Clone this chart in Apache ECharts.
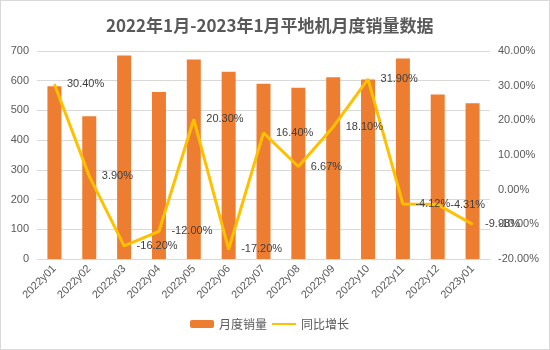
<!DOCTYPE html>
<html>
<head>
<meta charset="utf-8">
<script src="https://cdn.jsdelivr.net/npm/echarts@6/dist/echarts.min.js"></script>
<style>
  html, body { margin: 0; padding: 0; background: #fff; }
  #chart { width: 548px; height: 348px; border: 1px solid #d9d9d9; }
</style>
</head>
<body>
<div id="chart"></div>
<script>
const months = ['2022y01', '2022y02', '2022y03', '2022y04', '2022y05', '2022y06', '2022y07',
  '2022y08', '2022y09', '2022y10', '2022y11', '2022y12', '2023y01'];
const sales = [581, 480, 685, 562, 671, 630, 590, 576, 612, 604, 675, 554, 524];
const growth = [30.4, 3.9, -16.2, -12.0, 20.3, -17.2, 16.4, 6.67, 18.1, 31.9, -4.12, -4.31, -9.98];

const textColor = '#595959';
const chart = echarts.init(document.getElementById('chart'));

chart.setOption({
  animation: false,
  backgroundColor: '#fff',
  title: {
    text: '2022年1月-2023年1月平地机月度销量数据',
    left: 100,
    top: 11,
    textStyle: {
      color: textColor,
      fontSize: 17,
      fontWeight: 'bold',
      fontFamily: 'Noto Sans CJK SC'
    }
  },
  legend: {
    data: ['月度销量', { name: '同比增长', itemStyle: { opacity: 0 } }],
    bottom: 14,
    left: 184,
    itemWidth: 24,
    itemHeight: 8,
    itemGap: 4,
    textStyle: { color: textColor, fontSize: 12, fontFamily: 'Noto Sans CJK SC' }
  },
  grid: {
    left: 36,
    right: 59,
    top: 50,
    bottom: 90
  },
  xAxis: {
    type: 'category',
    data: months,
    axisLine: { lineStyle: { color: '#d9d9d9' } },
    axisTick: { show: false },
    axisLabel: {
      color: textColor,
      fontSize: 11,
      rotate: 45,
      interval: 0,
      fontFamily: 'Liberation Sans'
    }
  },
  yAxis: [
    {
      type: 'value',
      min: 0,
      max: 700,
      interval: 100,
      axisLine: { show: false },
      axisTick: { show: false },
      axisLabel: { color: textColor, fontSize: 11, fontFamily: 'Liberation Sans' },
      splitLine: { lineStyle: { color: '#d9d9d9' } }
    },
    {
      type: 'value',
      min: -20,
      max: 40,
      interval: 10,
      position: 'right',
      axisLine: { show: false },
      axisTick: { show: false },
      axisLabel: {
        color: textColor,
        fontSize: 11,
        fontFamily: 'Liberation Sans',
        formatter: v => v.toFixed(2) + '%'
      },
      splitLine: { show: false }
    }
  ],
  series: [
    {
      name: '月度销量',
      type: 'bar',
      barWidth: 14,
      itemStyle: { color: '#ED7D31' },
      data: sales
    },
    {
      name: '同比增长',
      type: 'line',
      yAxisIndex: 1,
      symbol: 'circle',
      symbolSize: 1,
      showSymbol: true,
      lineStyle: { color: '#FFC000', width: 3 },
      itemStyle: { color: '#FFC000' },
      label: {
        show: true,
        position: 'right',
        distance: 12,
        color: '#404040',
        fontSize: 11,
        fontFamily: 'Liberation Sans',
        formatter: p => p.value.toFixed(2) + '%'
      },
      data: growth
    }
  ]
});
</script>
</body>
</html>
